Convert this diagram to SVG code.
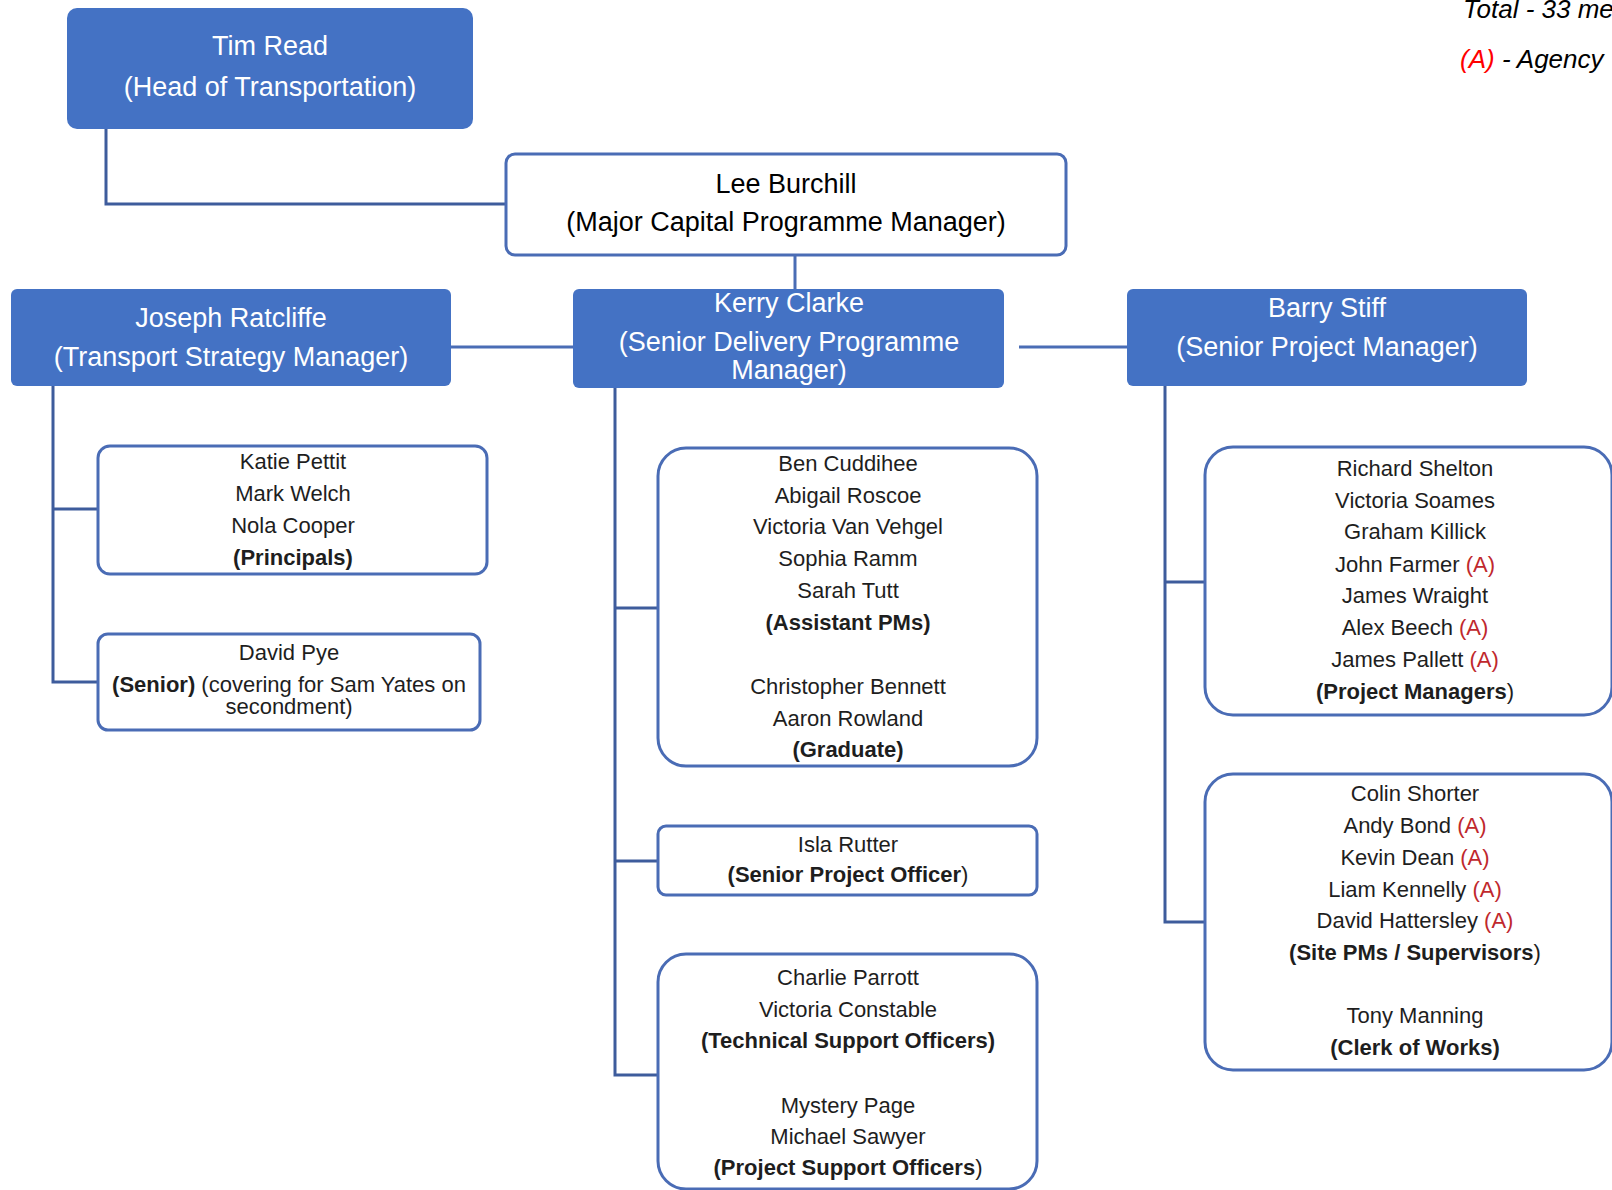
<svg xmlns="http://www.w3.org/2000/svg" width="1612" height="1190" viewBox="0 0 1612 1190">
<style>
text{font-family:"Liberation Sans",Arial,sans-serif;}
.hd{fill:#4472C4;}
.ht{fill:#ffffff;font-size:27px;text-anchor:middle;}
.bx{fill:#ffffff;stroke:#4A6CB5;stroke-width:3;}
.bt{fill:#1e1e1e;font-size:22px;text-anchor:middle;}
.lt{fill:#000000;font-size:27px;text-anchor:middle;}
.b{font-weight:bold;}
.a{fill:#C0282D;}
.cn{fill:none;stroke:#3E5C9C;stroke-width:3;}
.cl{fill:none;stroke:#4A6DB5;stroke-width:3;}
.lg{font-size:26px;font-style:italic;fill:#000000;}
.red{fill:#FF0000;}
</style>
<rect width="1612" height="1190" fill="#ffffff"/>
<g id="legend">
<text class="lg" x="1463" y="18">Total - 33 me</text>
<text class="lg" x="1460" y="68"><tspan class="red">(A)</tspan> - Agency</text>
</g>
<g id="connectors">
<path class="cn" d="M106 129 V204 H506"/>
<path class="cl" d="M795 255 V289"/>
<path class="cl" d="M450 347 H573"/>
<path class="cl" d="M1019 347 H1127"/>
<path class="cn" d="M53 386 V682 H98 M53 509 H98"/>
<path class="cn" d="M615 388 V1075 H658 M615 608 H658 M615 861 H658"/>
<path class="cn" d="M1165 386 V922 H1205 M1165 582 H1205"/>
</g>
<g id="tim-read">
<rect class="hd" x="67" y="8" width="406" height="121" rx="10"/>
<text class="ht" x="270" y="55">Tim Read</text>
<text class="ht" x="270" y="96">(Head of Transportation)</text>
</g>
<g id="lee-burchill">
<rect class="bx" x="506" y="154" width="560" height="101" rx="9"/>
<text class="lt" x="786" y="193">Lee Burchill</text>
<text class="lt" x="786" y="231">(Major Capital Programme Manager)</text>
</g>
<g id="joseph-ratcliffe">
<rect class="hd" x="11" y="289" width="440" height="97" rx="6"/>
<text class="ht" x="231" y="327">Joseph Ratcliffe</text>
<text class="ht" x="231" y="366">(Transport Strategy Manager)</text>
</g>
<g id="kerry-clarke">
<rect class="hd" x="573" y="289" width="431" height="99" rx="6"/>
<text class="ht" x="789" y="312">Kerry Clarke</text>
<text class="ht" x="789" y="351">(Senior Delivery Programme</text>
<text class="ht" x="789" y="379">Manager)</text>
</g>
<g id="barry-stiff">
<rect class="hd" x="1127" y="289" width="400" height="97" rx="6"/>
<text class="ht" x="1327" y="317">Barry Stiff</text>
<text class="ht" x="1327" y="356">(Senior Project Manager)</text>
</g>
<g id="principals">
<rect class="bx" x="98" y="446" width="389" height="128" rx="12"/>
<text class="bt" x="293" y="469">Katie Pettit</text>
<text class="bt" x="293" y="501">Mark Welch</text>
<text class="bt" x="293" y="533">Nola Cooper</text>
<text class="bt b" x="293" y="565">(Principals)</text>
</g>
<g id="david-pye">
<rect class="bx" x="98" y="634" width="382" height="96" rx="10"/>
<text class="bt" x="289" y="660">David Pye</text>
<text class="bt" x="289" y="692"><tspan class="b">(Senior)</tspan> (covering for Sam Yates on</text>
<text class="bt" x="289" y="714">secondment)</text>
</g>
<g id="assistant-pms">
<rect class="bx" x="658" y="448" width="379" height="318" rx="28"/>
<text class="bt" x="848" y="471">Ben Cuddihee</text>
<text class="bt" x="848" y="503">Abigail Roscoe</text>
<text class="bt" x="848" y="534">Victoria Van Vehgel</text>
<text class="bt" x="848" y="566">Sophia Ramm</text>
<text class="bt" x="848" y="598">Sarah Tutt</text>
<text class="bt b" x="848" y="630">(Assistant PMs)</text>
<text class="bt" x="848" y="694">Christopher Bennett</text>
<text class="bt" x="848" y="726">Aaron Rowland</text>
<text class="bt b" x="848" y="757">(Graduate)</text>
</g>
<g id="isla-rutter">
<rect class="bx" x="658" y="826" width="379" height="69" rx="8"/>
<text class="bt" x="848" y="852">Isla Rutter</text>
<text class="bt" x="848" y="882"><tspan class="b">(Senior Project Officer</tspan>)</text>
</g>
<g id="support-officers">
<rect class="bx" x="658" y="954" width="379" height="235" rx="28"/>
<text class="bt" x="848" y="985">Charlie Parrott</text>
<text class="bt" x="848" y="1017">Victoria Constable</text>
<text class="bt b" x="848" y="1048">(Technical Support Officers)</text>
<text class="bt" x="848" y="1113">Mystery Page</text>
<text class="bt" x="848" y="1144">Michael Sawyer</text>
<text class="bt" x="848" y="1175"><tspan class="b">(Project Support Officers</tspan>)</text>
</g>
<g id="project-managers">
<rect class="bx" x="1205" y="447" width="407" height="268" rx="28"/>
<text class="bt" x="1415" y="476">Richard Shelton</text>
<text class="bt" x="1415" y="508">Victoria Soames</text>
<text class="bt" x="1415" y="539">Graham Killick</text>
<text class="bt" x="1415" y="572">John Farmer <tspan class="a">(A)</tspan></text>
<text class="bt" x="1415" y="603">James Wraight</text>
<text class="bt" x="1415" y="635">Alex Beech <tspan class="a">(A)</tspan></text>
<text class="bt" x="1415" y="667">James Pallett <tspan class="a">(A)</tspan></text>
<text class="bt" x="1415" y="699"><tspan class="b">(Project Managers</tspan>)</text>
</g>
<g id="site-pms">
<rect class="bx" x="1205" y="774" width="407" height="296" rx="28"/>
<text class="bt" x="1415" y="801">Colin Shorter</text>
<text class="bt" x="1415" y="833">Andy Bond <tspan class="a">(A)</tspan></text>
<text class="bt" x="1415" y="865">Kevin Dean <tspan class="a">(A)</tspan></text>
<text class="bt" x="1415" y="897">Liam Kennelly <tspan class="a">(A)</tspan></text>
<text class="bt" x="1415" y="928">David Hattersley <tspan class="a">(A)</tspan></text>
<text class="bt" x="1415" y="960"><tspan class="b">(Site PMs / Supervisors</tspan>)</text>
<text class="bt" x="1415" y="1023">Tony Manning</text>
<text class="bt b" x="1415" y="1055">(Clerk of Works)</text>
</g>
</svg>
